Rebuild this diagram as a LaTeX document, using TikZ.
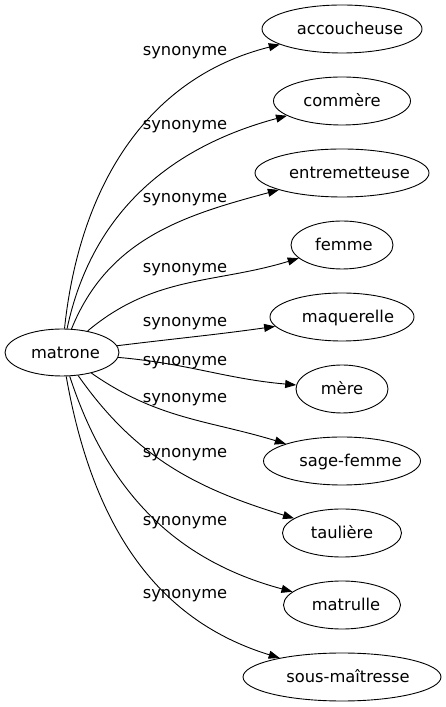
\documentclass[tikz,border=0pt]{standalone}
\usepackage{fontspec}
\setmainfont{DejaVu Sans}
\usetikzlibrary{shapes.geometric,arrows.meta}

\begin{document}
\begin{tikzpicture}[x=1bp,y=1bp,
  word/.style={draw, ellipse, inner sep=0pt, line width=0.9bp, minimum height=48bp,
    text height=12bp, text depth=0bp, font=\fontsize{16.3bp}{19bp}\selectfont},
  syn/.style={font=\fontsize{16.3bp}{19bp}\selectfont, anchor=base, inner sep=0pt},
  link/.style={-{Triangle[length=11bp,width=8bp]}, line width=0.9bp}]
\useasboundingbox (0,0) rectangle (446,707);

%the headword
\node [word, minimum width=114bp, minimum height=47bp] (matrone) at (62,354.5) {\makebox[0pt]{\hspace*{7bp}matrone}};

%the synonyms, one every 72bp (\p pushes the text a little to the right)
\foreach \name/\txt/\w/\p [count=\i] in {accoucheuse/accoucheuse/160/16, commere/commère/137/0,
  entremetteuse/entremetteuse/174/15, femme/femme/102/4, maquerelle/maquerelle/144/12,
  mere/mère/92/0, sagefemme/sage-femme/157/17, tauliere/taulière/119/0,
  matrulle/matrulle/117/8, sousmaitresse/sous-maîtresse/198/12}
  \node [word, minimum width=\w bp] (\name) at (342,750-72*\i) {\makebox[0pt]{\hspace*{\p bp}\txt}};

%the links and their labels
\foreach \name/\out/\in/\ly [count=\i] in {accoucheuse/84/194/651, commere/78/195/577,
  entremetteuse/68/195/504, femme/40/197/434, maquerelle/7/188/380,
  mere/-5/175/341, sagefemme/-35/163/304, tauliere/-55/163/249,
  matrulle/-72/165/181, sousmaitresse/-80/163/108}
{
  \draw [link] (matrone) to[out=\out, in=\in] (\name);
  \node [syn] (syn\i) at (185,\ly) {synonyme};
}

\end{tikzpicture}
\end{document}
